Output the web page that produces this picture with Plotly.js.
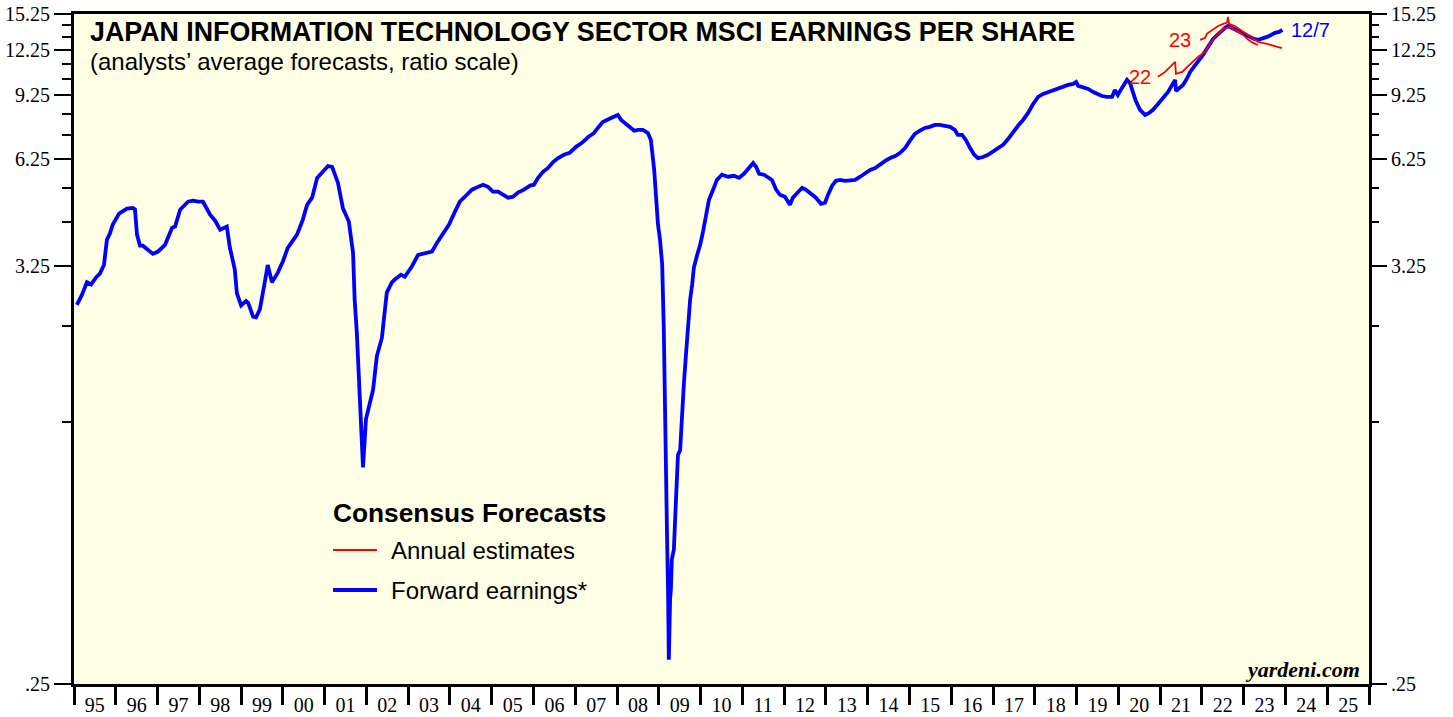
<!DOCTYPE html>
<html>
<head>
<meta charset="utf-8">
<script src="https://cdn.plot.ly/plotly-3.0.1.min.js"></script>
<style>
  html, body { margin: 0; padding: 0; background: #ffffff; }
  #chart { width: 1453px; height: 717px; }
</style>
</head>
<body>
<div id="chart"></div>
<script>
// --- Data (decimal year, EPS) -------------------------------------------------
// Forward earnings* (weekly, sampled), 1995 .. 12/7/2023
const fwdYears = [
  1995.07, 1995.19, 1995.31, 1995.41, 1995.53, 1995.62, 1995.72, 1995.79, 1995.86, 1995.93,
  1996.08, 1996.27, 1996.41, 1996.46, 1996.51, 1996.58, 1996.65, 1996.77, 1996.89,
  1997.01, 1997.18, 1997.35, 1997.42, 1997.54, 1997.73, 1997.85, 1997.97,
  1998.09, 1998.26, 1998.38, 1998.50, 1998.66, 1998.73, 1998.85, 1998.90,
  1999.00, 1999.12, 1999.17, 1999.29, 1999.36, 1999.45, 1999.57, 1999.64, 1999.74, 1999.88,
  2000.00, 2000.12, 2000.34, 2000.48, 2000.58, 2000.70, 2000.82, 2000.94,
  2001.08, 2001.18, 2001.32, 2001.44, 2001.58, 2001.68, 2001.72, 2001.77, 2001.85, 2001.92, 2001.99,
  2002.16, 2002.25, 2002.37, 2002.49, 2002.61, 2002.68, 2002.83, 2002.92,
  2003.09, 2003.24, 2003.45, 2003.57, 2003.69, 2003.83, 2003.98,
  2004.12, 2004.24, 2004.38, 2004.53, 2004.67, 2004.79, 2004.91,
  2005.03, 2005.15, 2005.27, 2005.39, 2005.51, 2005.63, 2005.77, 2005.92,
  2006.01, 2006.11, 2006.23, 2006.35, 2006.47, 2006.59, 2006.73, 2006.87,
  2007.02, 2007.16, 2007.31, 2007.45, 2007.54, 2007.66, 2007.81, 2007.93,
  2008.02, 2008.10, 2008.19, 2008.31, 2008.41, 2008.50, 2008.62, 2008.74, 2008.81, 2008.89, 2008.93, 2008.98,
  2009.03, 2009.08, 2009.12, 2009.15, 2009.17, 2009.20, 2009.22, 2009.24, 2009.27, 2009.29, 2009.31, 2009.36, 2009.39,
  2009.44, 2009.46, 2009.51, 2009.56, 2009.60, 2009.65, 2009.70, 2009.75, 2009.80, 2009.84, 2009.92, 2009.99,
  2010.06, 2010.13, 2010.20, 2010.30, 2010.39, 2010.51, 2010.66, 2010.80, 2010.92,
  2011.04, 2011.16, 2011.26, 2011.33, 2011.40, 2011.52, 2011.61, 2011.71, 2011.81, 2011.90,
  2012.02, 2012.14, 2012.21, 2012.31, 2012.43, 2012.52, 2012.64, 2012.76, 2012.88, 2012.98,
  2013.05, 2013.15, 2013.24, 2013.34, 2013.46, 2013.58, 2013.70, 2013.82, 2013.94,
  2014.06, 2014.18, 2014.30, 2014.42, 2014.54, 2014.66, 2014.78, 2014.90,
  2015.01, 2015.13, 2015.25, 2015.37, 2015.49, 2015.61, 2015.73, 2015.85, 2015.97,
  2016.09, 2016.16, 2016.26, 2016.35, 2016.45, 2016.55, 2016.64, 2016.76, 2016.88,
  2017.00, 2017.12, 2017.24, 2017.36, 2017.48, 2017.60, 2017.72, 2017.84, 2017.96,
  2018.08, 2018.20, 2018.32, 2018.44, 2018.56, 2018.68, 2018.80, 2018.92, 2018.99,
  2019.04, 2019.16, 2019.28, 2019.40, 2019.49, 2019.61, 2019.73, 2019.85, 2019.92, 2019.99,
  2020.09, 2020.21, 2020.28, 2020.41, 2020.52, 2020.64, 2020.74, 2020.83, 2020.95,
  2021.07, 2021.19, 2021.29, 2021.36, 2021.38, 2021.48, 2021.55, 2021.65, 2021.72, 2021.81, 2021.91,
  2022.03, 2022.10, 2022.17, 2022.27, 2022.37, 2022.49, 2022.58, 2022.63, 2022.72, 2022.84, 2022.96,
  2023.06, 2023.15, 2023.25, 2023.35, 2023.44, 2023.56, 2023.66, 2023.75, 2023.85, 2023.93
];
const fwdEps = [
  2.56, 2.72, 2.94, 2.90, 3.03, 3.10, 3.27, 3.82, 3.96, 4.19,
  4.48, 4.62, 4.64, 4.60, 3.94, 3.68, 3.68, 3.59, 3.50,
  3.55, 3.70, 4.11, 4.14, 4.59, 4.82, 4.85, 4.82,
  4.82, 4.45, 4.29, 4.06, 4.14, 3.65, 3.18, 2.75,
  2.55, 2.62, 2.59, 2.38, 2.37, 2.49, 2.95, 3.27, 2.94, 3.12,
  3.34, 3.63, 3.94, 4.32, 4.73, 4.94, 5.58, 5.79,
  6.00, 5.97, 5.41, 4.62, 4.27, 3.52, 2.64, 2.16, 1.43, 0.944, 1.27,
  1.52, 1.87, 2.09, 2.76, 2.94, 2.99, 3.08, 3.04,
  3.24, 3.48, 3.52, 3.55, 3.74, 3.94, 4.19,
  4.53, 4.82, 5.00, 5.19, 5.28, 5.35, 5.28,
  5.13, 5.13, 5.03, 4.94, 4.97, 5.10, 5.19, 5.32,
  5.35, 5.58, 5.79, 5.93, 6.15, 6.30, 6.43, 6.51,
  6.75, 6.92, 7.17, 7.35, 7.58, 7.86, 8.01, 8.11,
  8.21, 7.96, 7.82, 7.63, 7.45, 7.49, 7.49, 7.35, 7.04, 5.86, 4.88, 4.19,
  3.82, 3.27, 2.20, 1.19, 0.730, 0.578, 0.447, 0.290, 0.420, 0.447, 0.537, 0.570, 0.686,
  0.904, 1.02, 1.05, 1.35, 1.57, 1.89, 2.34, 2.64, 2.90, 3.22, 3.48, 3.70,
  4.01, 4.45, 4.88, 5.19, 5.51, 5.69, 5.62, 5.65, 5.58,
  5.72, 5.93, 6.11, 5.97, 5.72, 5.69, 5.62, 5.51, 5.19, 5.03,
  4.97, 4.73, 4.94, 5.10, 5.25, 5.19, 5.06, 4.94, 4.76, 4.79,
  5.03, 5.32, 5.48, 5.51, 5.48, 5.51, 5.51, 5.62, 5.75,
  5.86, 5.93, 6.08, 6.19, 6.30, 6.38, 6.51, 6.71,
  7.00, 7.31, 7.45, 7.58, 7.63, 7.72, 7.72, 7.68, 7.63,
  7.49, 7.26, 7.26, 7.04, 6.71, 6.43, 6.30, 6.34, 6.43,
  6.55, 6.67, 6.83, 7.08, 7.40, 7.68, 7.96, 8.31, 8.78,
  9.17, 9.34, 9.45, 9.57, 9.69, 9.81, 9.87, 9.93, 10.05,
  9.81, 9.69, 9.63, 9.45, 9.34, 9.22, 9.17, 9.17, 9.57, 9.28,
  9.69, 10.18, 9.99, 9.00, 8.47, 8.21, 8.31, 8.47, 8.78,
  9.11, 9.45, 9.87, 10.18, 9.51, 9.69, 9.87, 10.30, 10.69, 11.02, 11.37,
  11.87, 12.23, 12.61, 13.09, 13.41, 13.83, 14.08, 14.17, 14.00, 13.83, 13.58,
  13.41, 13.25, 13.09, 13.01, 13.09, 13.25, 13.41, 13.58, 13.66, 13.83
];

// Annual estimates: 2022 and 2023
const est22Years = [2020.95, 2021.12, 2021.24, 2021.36, 2021.38, 2021.53, 2021.65, 2021.77, 2021.91,
  2022.08, 2022.20, 2022.37, 2022.51, 2022.68, 2022.84, 2022.99, 2023.11, 2023.23, 2023.35];
const est22Eps = [10.37, 10.69, 11.02, 11.37, 10.56, 10.69, 11.02, 11.37, 11.73,
  12.09, 12.77, 13.41, 13.91, 14.08, 13.75, 13.41, 13.01, 12.77, 12.61];
const est23Years = [2021.96, 2022.08, 2022.12, 2022.27, 2022.39, 2022.51, 2022.60, 2022.63, 2022.65,
  2022.79, 2022.96, 2023.11, 2023.23, 2023.35, 2023.56, 2023.75, 2023.92];
const est23Eps = [13.01, 13.17, 13.50, 13.91, 14.17, 14.35, 14.44, 14.98, 14.35,
  14.17, 13.75, 13.41, 13.17, 12.85, 12.69, 12.53, 12.37];

// Axis ticks (ratio scale)
const yTickVals = [0.25, 3.25, 6.25, 9.25, 12.25, 15.25];
const yTickText = [".25", "3.25", "6.25", "9.25", "12.25", "15.25"];
const yMinorVals = [1.25, 2.25, 4.25, 5.25, 7.25, 8.25, 10.25, 11.25, 13.25, 14.25];
const xStart = "1995-01-01", xEnd = "2026-01-01";

// --- Helpers --------------------------------------------------------------------
// decimal year -> "YYYY-MM-DD"
function toDate(t) {
  const y = Math.floor(t);
  const a = Date.UTC(y, 0, 1), b = Date.UTC(y + 1, 0, 1);
  return new Date(a + (t - y) * (b - a)).toISOString().slice(0, 10);
}

const SANS = "Liberation Sans, Arial, Helvetica, sans-serif";
const SERIF = "Liberation Serif, Times New Roman, serif";
const BLUE = "#0000FF", RED = "#FF0000", BG = "#FFFFE6";

// plot area in px: x 74..1369, y 14..684
const px = (x) => (x - 74) / 1295;
const py = (y) => (684 - y) / 670;

const traces = [
  { x: fwdYears.map(toDate), y: fwdEps, type: "scatter", mode: "lines",
    line: { color: BLUE, width: 3.8 }, hoverinfo: "skip", name: "Forward earnings*" },
  { x: est22Years.map(toDate), y: est22Eps, type: "scatter", mode: "lines",
    line: { color: RED, width: 1.8 }, hoverinfo: "skip", name: "2022" },
  { x: est23Years.map(toDate), y: est23Eps, type: "scatter", mode: "lines",
    line: { color: RED, width: 1.8 }, hoverinfo: "skip", name: "2023" },
  // carries the right-hand axis
  { x: [xStart], y: [1], yaxis: "y2", type: "scatter", mode: "none", hoverinfo: "skip", showlegend: false }
];

const yBase = {
  type: "log",
  range: [Math.log10(0.25), Math.log10(15.25)],
  tickmode: "array", tickvals: yTickVals, ticktext: yTickText,
  ticks: "outside", ticklen: 17, tickwidth: 2, tickcolor: "#000",
  minor: { tickmode: "array", tickvals: yMinorVals, ticks: "outside", ticklen: 9, tickwidth: 2, tickcolor: "#000", showgrid: false },
  showgrid: false, zeroline: false,
  tickfont: { family: SERIF, size: 20, color: "#000" },
  fixedrange: true
};

const layout = {
  width: 1453, height: 717,
  margin: { l: 74, r: 84, t: 14, b: 33, pad: 0 },
  paper_bgcolor: "#ffffff", plot_bgcolor: BG,
  showlegend: false,
  xaxis: {
    type: "date", range: [xStart, xEnd],
    tick0: xStart, dtick: "M12", tickformat: "%y", ticklabelmode: "period",
    ticks: "outside", ticklen: 18, tickwidth: 3, tickcolor: "#000",
    ticklabelstandoff: -17,
    showline: true, linewidth: 3, linecolor: "#000", mirror: true,
    showgrid: false, zeroline: false,
    tickfont: { family: SERIF, size: 20, color: "#000" },
    fixedrange: true
  },
  yaxis: Object.assign({}, yBase, { showline: true, linewidth: 3, linecolor: "#000", mirror: true }),
  yaxis2: Object.assign({}, yBase, { overlaying: "y", side: "right", anchor: "x", showline: false }),
  shapes: [
    { type: "line", xref: "paper", yref: "paper", x0: px(333), x1: px(377), y0: py(550), y1: py(550),
      line: { color: RED, width: 1.8 } },
    { type: "line", xref: "paper", yref: "paper", x0: px(333), x1: px(377), y0: py(590), y1: py(590),
      line: { color: BLUE, width: 3.8 } }
  ],
  annotations: [
    { text: "<b>JAPAN INFORMATION TECHNOLOGY SECTOR MSCI EARNINGS PER SHARE</b>",
      x: px(88), y: py(32), xanchor: "left", yanchor: "middle",
      font: { family: SANS, size: 26.8, color: "#000" } },
    { text: "(analysts’ average forecasts, ratio scale)",
      x: px(88), y: py(62), xanchor: "left", yanchor: "middle",
      font: { family: SANS, size: 24, color: "#000" } },
    { text: "<b>Consensus Forecasts</b>",
      x: px(331), y: py(513), xanchor: "left", yanchor: "middle",
      font: { family: SANS, size: 26.3, color: "#000" } },
    { text: "Annual estimates",
      x: px(389), y: py(550), xanchor: "left", yanchor: "middle",
      font: { family: SANS, size: 24, color: "#000" } },
    { text: "Forward earnings*",
      x: px(389), y: py(590), xanchor: "left", yanchor: "middle",
      font: { family: SANS, size: 24, color: "#000" } },
    { text: "<b><i>yardeni.com</i></b>",
      x: px(1362), y: py(669), xanchor: "right", yanchor: "middle",
      font: { family: SERIF, size: 22, color: "#000" } },
    { text: "12/7", x: px(1289), y: py(30), xanchor: "left", yanchor: "middle",
      font: { family: SANS, size: 20, color: BLUE } },
    { text: "22", x: px(1127), y: py(77), xanchor: "left", yanchor: "middle",
      font: { family: SANS, size: 20, color: RED } },
    { text: "23", x: px(1167), y: py(40), xanchor: "left", yanchor: "middle",
      font: { family: SANS, size: 20, color: RED } }
  ].map((a) => Object.assign({ xref: "paper", yref: "paper", showarrow: false }, a))
};

Plotly.newPlot("chart", traces, layout, { displayModeBar: false, staticPlot: true });
</script>
</body>
</html>
